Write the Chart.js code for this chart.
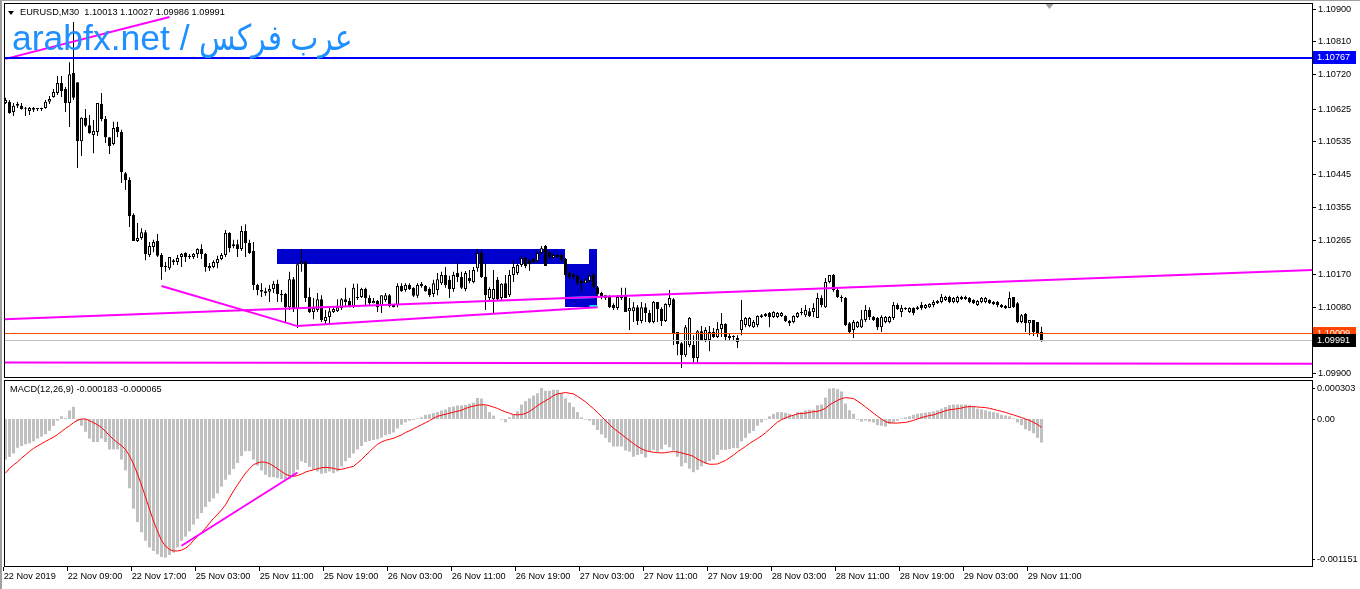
<!DOCTYPE html>
<html>
<head>
<meta charset="utf-8">
<script src="https://cdn.jsdelivr.net/npm/chart.js@4.4.1/dist/chart.umd.min.js"></script>
<style>
  html, body { margin: 0; padding: 0; background: #fff; }
  #wrap { position: relative; width: 1360px; height: 589px; overflow: hidden; background: #fff; }
  #main { position: absolute; left: 0; top: 0; }
  #macd { position: absolute; left: 0; top: 378px; }
  .txt { position: absolute; white-space: pre; font-family: "Liberation Sans", Arial, "DejaVu Sans", sans-serif; color: #000; }
  #hdr { left: 20px; top: 7px; font-size: 9.2px; line-height: 11px; }
  #arrow { position: absolute; left: 8px; top: 11px; width: 0; height: 0; border-left: 3px solid transparent; border-right: 3px solid transparent; border-top: 4px solid #000; }
  #wm { left: 12px; top: 21px; font-size: 35.5px; line-height: 35px; color: #1e90ff; }
  #wm .ar { display: inline-block; transform: scaleX(0.84); transform-origin: left center; }
  #mt { left: 10px; top: 384px; font-size: 9.2px; line-height: 11px; }
  #frameL { position: absolute; left: 0; top: 0; width: 2px; height: 589px; background: #a0a0a0; }
  #frameT { position: absolute; left: 0; top: 0; width: 1360px; height: 1px; background: #a0a0a0; }
</style>
</head>
<body>
<div id="wrap">
  <canvas id="main" width="1360" height="378"></canvas>
  <canvas id="macd" width="1360" height="211"></canvas>
  <div id="frameL"></div>
  <div id="frameT"></div>
  <div id="arrow"></div>
  <div class="txt" id="hdr">EURUSD,M30  1.10013 1.10027 1.09986 1.09991</div>
  <div class="txt" id="wm">arabfx.net / <span class="ar">عرب فركس</span></div>
  <div class="txt" id="mt">MACD(12,26,9) -0.000183 -0.000065</div>
</div>
<script>
// EURUSD M30, 22 Nov 2019 01:00 -> 29 Nov 2019, one value per bar
const open = [
  1.10642,1.10645,1.10617,1.10634,1.10634,1.10628,1.10620,1.10623,1.10626,1.10625,
  1.10628,1.10645,1.10658,1.10669,1.10697,1.10680,1.10642,1.10724,1.10699,1.10537,
  1.10601,1.10581,1.10554,1.10562,1.10639,1.10598,1.10548,1.10529,1.10576,1.10562,
  1.10449,1.10430,1.10334,1.10263,1.10271,1.10287,1.10224,1.10246,1.10263,1.10224,
  1.10191,1.10188,1.10205,1.10205,1.10219,1.10230,1.10222,1.10219,1.10227,1.10241,
  1.10227,1.10188,1.10191,1.10202,1.10213,1.10224,1.10285,1.10249,1.10254,1.10241,
  1.10290,1.10257,1.10235,1.10142,1.10128,1.10120,1.10123,1.10131,1.10145,1.10117,
  1.10117,1.10081,1.10158,1.10076,1.10199,1.10205,1.10109,1.10068,1.10073,1.10103,
  1.10043,1.10054,1.10068,1.10070,1.10079,1.10103,1.10098,1.10084,1.10106,1.10109,
  1.10131,1.10106,1.10092,1.10098,1.10087,1.10101,1.10114,1.10087,1.10087,1.10139,
  1.10128,1.10142,1.10134,1.10112,1.10145,1.10139,1.10131,1.10117,1.10128,1.10147,
  1.10169,1.10156,1.10131,1.10175,1.10164,1.10131,1.10161,1.10150,1.10188,1.10230,
  1.10164,1.10106,1.10103,1.10156,1.10106,1.10147,1.10114,1.10169,1.10175,1.10197,
  1.10216,1.10210,1.10213,1.10208,1.10230,1.10249,1.10232,1.10216,1.10219,1.10224,
  1.10213,1.10175,1.10169,1.10167,1.10153,1.10147,1.10153,1.10169,1.10136,1.10120,
  1.10114,1.10109,1.10087,1.10079,1.10106,1.10112,1.10070,1.10070,1.10081,1.10043,
  1.10081,1.10065,1.10040,1.10095,1.10076,1.10043,1.10087,1.10103,1.10013,1.09982,
  1.09949,1.09977,1.09977,1.09941,1.10015,1.09991,1.09991,1.10013,1.09999,1.10021,
  1.10035,1.10002,1.10002,1.09996,1.10018,1.10032,1.10029,1.10026,1.10032,1.10054,
  1.10057,1.10065,1.10054,1.10054,1.10057,1.10057,1.10043,1.10040,1.10054,1.10065,
  1.10059,1.10070,1.10068,1.10051,1.10106,1.10081,1.10150,1.10169,1.10128,1.10109,
  1.10106,1.10037,1.10018,1.10026,1.10026,1.10046,1.10073,1.10054,1.10051,1.10026,
  1.10040,1.10040,1.10051,1.10087,1.10068,1.10079,1.10068,1.10079,1.10076,1.10087,
  1.10079,1.10081,1.10087,1.10098,1.10095,1.10101,1.10109,1.10095,1.10095,1.10109,
  1.10103,1.10106,1.10101,1.10087,1.10095,1.10095,1.10101,1.10095,1.10095,1.10087,
  1.10084,1.10079,1.10109,1.10092,1.10040,1.10062,1.10037,1.10046,1.10040,1.10013
];
const high = [
  1.10656,1.10650,1.10642,1.10645,1.10642,1.10631,1.10631,1.10631,1.10628,1.10629,
  1.10650,1.10661,1.10680,1.10716,1.10716,1.10686,1.10754,1.10864,1.10699,1.10603,
  1.10625,1.10609,1.10595,1.10642,1.10669,1.10606,1.10548,1.10590,1.10590,1.10568,
  1.10452,1.10438,1.10339,1.10312,1.10298,1.10293,1.10260,1.10266,1.10282,1.10230,
  1.10205,1.10219,1.10213,1.10224,1.10230,1.10232,1.10227,1.10230,1.10243,1.10254,
  1.10230,1.10202,1.10210,1.10222,1.10230,1.10293,1.10287,1.10266,1.10266,1.10304,
  1.10309,1.10266,1.10260,1.10145,1.10147,1.10134,1.10142,1.10153,1.10156,1.10128,
  1.10120,1.10178,1.10164,1.10202,1.10241,1.10210,1.10134,1.10106,1.10120,1.10114,
  1.10073,1.10079,1.10081,1.10103,1.10106,1.10134,1.10106,1.10145,1.10145,1.10134,
  1.10134,1.10114,1.10106,1.10101,1.10114,1.10120,1.10117,1.10090,1.10147,1.10147,
  1.10147,1.10147,1.10136,1.10147,1.10150,1.10142,1.10136,1.10156,1.10175,1.10178,
  1.10191,1.10167,1.10178,1.10202,1.10178,1.10180,1.10183,1.10191,1.10241,1.10238,
  1.10202,1.10136,1.10183,1.10164,1.10147,1.10169,1.10183,1.10210,1.10202,1.10222,
  1.10219,1.10213,1.10216,1.10235,1.10249,1.10252,1.10235,1.10230,1.10227,1.10227,
  1.10216,1.10178,1.10175,1.10169,1.10158,1.10161,1.10175,1.10175,1.10139,1.10123,
  1.10114,1.10114,1.10092,1.10114,1.10134,1.10134,1.10106,1.10095,1.10087,1.10095,
  1.10092,1.10073,1.10098,1.10095,1.10081,1.10092,1.10128,1.10106,1.10013,1.09985,
  1.10032,1.10054,1.10004,1.10018,1.10029,1.10026,1.10029,1.10024,1.10040,1.10065,
  1.10037,1.10007,1.10004,1.10004,1.10101,1.10054,1.10054,1.10046,1.10059,1.10062,
  1.10065,1.10068,1.10070,1.10068,1.10068,1.10059,1.10046,1.10059,1.10068,1.10079,
  1.10087,1.10079,1.10092,1.10120,1.10114,1.10161,1.10169,1.10172,1.10134,1.10114,
  1.10109,1.10040,1.10046,1.10043,1.10073,1.10087,1.10081,1.10057,1.10054,1.10059,
  1.10057,1.10057,1.10095,1.10092,1.10087,1.10081,1.10081,1.10081,1.10084,1.10095,
  1.10090,1.10092,1.10101,1.10101,1.10117,1.10112,1.10112,1.10109,1.10112,1.10112,
  1.10112,1.10109,1.10103,1.10101,1.10109,1.10109,1.10103,1.10098,1.10098,1.10090,
  1.10087,1.10123,1.10109,1.10095,1.10062,1.10065,1.10046,1.10046,1.10040,1.10027
];
const low = [
  1.10639,1.10612,1.10606,1.10628,1.10623,1.10606,1.10609,1.10617,1.10620,1.10620,
  1.10626,1.10639,1.10656,1.10664,1.10658,1.10617,1.10576,1.10650,1.10463,1.10496,
  1.10576,1.10557,1.10504,1.10551,1.10592,1.10532,1.10502,1.10526,1.10548,1.10422,
  1.10403,1.10301,1.10263,1.10260,1.10266,1.10210,1.10219,1.10232,1.10219,1.10156,
  1.10178,1.10183,1.10197,1.10197,1.10191,1.10205,1.10213,1.10213,1.10216,1.10213,
  1.10178,1.10180,1.10188,1.10188,1.10210,1.10219,1.10232,1.10243,1.10219,1.10235,
  1.10219,1.10227,1.10128,1.10114,1.10109,1.10112,1.10095,1.10120,1.10095,1.10095,
  1.10040,1.10073,1.10068,1.10024,1.10178,1.10095,1.10065,1.10048,1.10068,1.10040,
  1.10035,1.10037,1.10065,1.10068,1.10073,1.10081,1.10081,1.10079,1.10101,1.10106,
  1.10087,1.10087,1.10092,1.10068,1.10065,1.10095,1.10081,1.10081,1.10081,1.10123,
  1.10123,1.10128,1.10109,1.10106,1.10134,1.10123,1.10109,1.10109,1.10114,1.10142,
  1.10134,1.10106,1.10123,1.10150,1.10131,1.10125,1.10147,1.10147,1.10178,1.10161,
  1.10073,1.10101,1.10065,1.10101,1.10101,1.10106,1.10109,1.10150,1.10169,1.10191,
  1.10188,1.10180,1.10202,1.10202,1.10227,1.10194,1.10213,1.10213,1.10216,1.10205,
  1.10164,1.10158,1.10156,1.10142,1.10123,1.10147,1.10147,1.10134,1.10112,1.10103,
  1.10101,1.10079,1.10073,1.10073,1.10101,1.10068,1.10018,1.10040,1.10032,1.10037,
  1.10040,1.10037,1.10037,1.10040,1.10029,1.10040,1.10081,1.09977,1.09949,1.09914,
  1.09944,1.09971,1.09925,1.09925,1.09988,1.09985,1.09960,1.09996,1.09996,1.09999,
  1.09991,1.09988,1.09991,1.09969,1.10004,1.10026,1.10026,1.10024,1.10026,1.10051,
  1.10054,1.10026,1.10051,1.10051,1.10054,1.10040,1.10029,1.10037,1.10051,1.10059,
  1.10054,1.10054,1.10054,1.10051,1.10081,1.10079,1.10147,1.10123,1.10106,1.10095,
  1.10029,1.10010,1.09996,1.10024,1.10024,1.10040,1.10046,1.10043,1.10018,1.10013,
  1.10037,1.10037,1.10046,1.10073,1.10054,1.10073,1.10065,1.10059,1.10073,1.10073,
  1.10076,1.10079,1.10081,1.10090,1.10092,1.10098,1.10092,1.10092,1.10092,1.10101,
  1.10101,1.10092,1.10090,1.10084,1.10092,1.10092,1.10090,1.10087,1.10081,1.10079,
  1.10076,1.10079,1.10079,1.10037,1.10037,1.10013,1.10004,1.10002,1.09999,1.09986
];
const close = [
  1.10650,1.10614,1.10634,1.10639,1.10625,1.10626,1.10628,1.10628,1.10625,1.10626,
  1.10645,1.10653,1.10672,1.10697,1.10675,1.10642,1.10721,1.10656,1.10537,1.10601,
  1.10579,1.10559,1.10565,1.10642,1.10598,1.10548,1.10524,1.10573,1.10562,1.10452,
  1.10430,1.10331,1.10263,1.10271,1.10287,1.10227,1.10249,1.10260,1.10222,1.10191,
  1.10194,1.10219,1.10210,1.10216,1.10227,1.10219,1.10219,1.10227,1.10241,1.10227,
  1.10191,1.10194,1.10205,1.10213,1.10224,1.10285,1.10243,1.10254,1.10241,1.10290,
  1.10257,1.10230,1.10142,1.10128,1.10123,1.10125,1.10131,1.10145,1.10117,1.10114,
  1.10081,1.10158,1.10076,1.10199,1.10205,1.10106,1.10068,1.10079,1.10103,1.10046,
  1.10054,1.10070,1.10076,1.10081,1.10103,1.10095,1.10084,1.10134,1.10109,1.10131,
  1.10106,1.10092,1.10098,1.10081,1.10114,1.10114,1.10084,1.10081,1.10139,1.10125,
  1.10142,1.10131,1.10112,1.10142,1.10139,1.10125,1.10114,1.10147,1.10158,1.10169,
  1.10142,1.10131,1.10169,1.10164,1.10134,1.10175,1.10153,1.10183,1.10230,1.10164,
  1.10114,1.10131,1.10131,1.10103,1.10145,1.10106,1.10169,1.10191,1.10197,1.10216,
  1.10194,1.10199,1.10205,1.10230,1.10243,1.10194,1.10219,1.10224,1.10224,1.10210,
  1.10169,1.10164,1.10164,1.10147,1.10147,1.10156,1.10167,1.10136,1.10117,1.10109,
  1.10106,1.10081,1.10079,1.10109,1.10112,1.10068,1.10079,1.10081,1.10043,1.10081,
  1.10065,1.10040,1.10095,1.10076,1.10043,1.10090,1.10106,1.10010,1.09980,1.09949,
  1.10026,1.10051,1.09941,1.10015,1.09991,1.10018,1.10013,1.09999,1.10021,1.10035,
  1.09999,1.09996,1.09999,1.09985,1.10046,1.10051,1.10051,1.10040,1.10057,1.10059,
  1.10062,1.10054,1.10068,1.10065,1.10065,1.10043,1.10037,1.10057,1.10065,1.10068,
  1.10073,1.10057,1.10079,1.10106,1.10087,1.10150,1.10169,1.10128,1.10109,1.10106,
  1.10032,1.10013,1.10040,1.10040,1.10048,1.10073,1.10054,1.10046,1.10026,1.10054,
  1.10054,1.10054,1.10087,1.10076,1.10079,1.10076,1.10079,1.10065,1.10081,1.10079,
  1.10087,1.10090,1.10095,1.10092,1.10109,1.10109,1.10095,1.10106,1.10109,1.10103,
  1.10109,1.10095,1.10092,1.10098,1.10106,1.10106,1.10092,1.10090,1.10087,1.10081,
  1.10079,1.10106,1.10081,1.10040,1.10059,1.10037,1.10046,1.10013,1.10007,1.09991
];

// MACD(12,26,9): main line (histogram) and signal line
const macdMain = [
  -0.000316,-0.000295,-0.000268,-0.000224,-0.000210,-0.000197,-0.000189,-0.000174,-0.000153,-0.000137,
  -0.000118,-0.000092,-0.000053,-0.000013,0.000021,0.000008,0.000066,0.000095,-0.000013,-0.000053,
  -0.000100,-0.000153,-0.000179,-0.000179,-0.000153,-0.000179,-0.000237,-0.000237,-0.000237,-0.000316,
  -0.000400,-0.000539,-0.000697,-0.000802,-0.000881,-0.000947,-0.000999,-0.001026,-0.001052,-0.001073,
  -0.001078,-0.001057,-0.001039,-0.000999,-0.000947,-0.000915,-0.000873,-0.000821,-0.000776,-0.000731,
  -0.000684,-0.000644,-0.000618,-0.000579,-0.000526,-0.000473,-0.000434,-0.000389,-0.000342,-0.000289,
  -0.000250,-0.000250,-0.000316,-0.000363,-0.000400,-0.000434,-0.000452,-0.000452,-0.000460,-0.000468,
  -0.000473,-0.000468,-0.000447,-0.000395,-0.000329,-0.000342,-0.000373,-0.000395,-0.000408,-0.000426,
  -0.000421,-0.000408,-0.000421,-0.000408,-0.000368,-0.000329,-0.000302,-0.000268,-0.000237,-0.000210,
  -0.000179,-0.000171,-0.000163,-0.000158,-0.000145,-0.000126,-0.000118,-0.000105,-0.000074,-0.000045,
  -0.000026,-0.000013,-0.000008,0.000005,0.000013,0.000032,0.000037,0.000045,0.000053,0.000066,
  0.000074,0.000092,0.000097,0.000105,0.000105,0.000110,0.000118,0.000126,0.000163,0.000158,
  0.000105,0.000053,0.000026,0.000000,-0.000005,-0.000026,0.000013,0.000032,0.000060,
  0.000112,0.000139,0.000160,0.000182,0.000200,0.000240,0.000219,0.000219,0.000227,0.000227,
  0.000200,0.000160,0.000128,0.000093,0.000053,0.000013,-0.000005,-0.000013,-0.000048,-0.000085,
  -0.000120,-0.000147,-0.000182,-0.000214,-0.000214,-0.000214,-0.000246,-0.000254,-0.000294,-0.000280,
  -0.000272,-0.000299,-0.000254,-0.000240,-0.000254,-0.000235,-0.000200,-0.000220,-0.000246,-0.000294,
  -0.000368,-0.000342,-0.000387,-0.000414,-0.000395,-0.000368,-0.000347,-0.000328,-0.000315,-0.000280,
  -0.000240,-0.000240,-0.000235,-0.000227,-0.000227,-0.000174,-0.000147,-0.000112,-0.000093,-0.000053,
  -0.000027,-0.000005,0.000021,0.000040,0.000053,0.000053,0.000048,0.000040,0.000032,0.000053,
  0.000053,0.000067,0.000072,0.000072,0.000107,0.000112,0.000166,0.000235,0.000240,0.000232,
  0.000214,0.000120,0.000067,0.000040,-0.000005,-0.000021,-0.000013,-0.000021,-0.000027,-0.000048,
  -0.000053,-0.000059,-0.000040,-0.000027,-0.000013,0.000005,0.000013,0.000021,0.000032,0.000040,
  0.000045,0.000049,0.000053,0.000059,0.000067,0.000080,0.000093,0.000107,0.000112,0.000112,
  0.000112,0.000112,0.000107,0.000093,0.000080,0.000075,0.000067,0.000059,0.000053,0.000048,
  0.000032,0.000027,0.000021,0.000005,-0.000027,-0.000048,-0.000080,-0.000093,-0.000112,-0.000147,
  -0.000183
];
const macdSignal = [
  -0.000421,-0.000384,-0.000358,-0.000334,-0.000305,-0.000279,-0.000252,-0.000229,-0.000210,-0.000192,
  -0.000174,-0.000158,-0.000142,-0.000121,-0.000097,-0.000074,-0.000053,-0.000029,-0.000011,0.000000,
  0.000000,-0.000013,-0.000029,-0.000045,-0.000066,-0.000097,-0.000129,-0.000160,-0.000184,-0.000208,
  -0.000237,-0.000287,-0.000350,-0.000429,-0.000513,-0.000608,-0.000702,-0.000794,-0.000873,-0.000944,
  -0.000989,-0.001015,-0.001026,-0.001026,-0.001020,-0.001005,-0.000981,-0.000944,-0.000913,-0.000881,
  -0.000850,-0.000810,-0.000773,-0.000742,-0.000707,-0.000668,-0.000613,-0.000560,-0.000513,-0.000466,
  -0.000421,-0.000387,-0.000355,-0.000342,-0.000334,-0.000337,-0.000347,-0.000366,-0.000387,-0.000408,
  -0.000429,-0.000442,-0.000447,-0.000439,-0.000429,-0.000413,-0.000403,-0.000395,-0.000387,-0.000379,
  -0.000376,-0.000379,-0.000384,-0.000392,-0.000392,-0.000384,-0.000376,-0.000368,-0.000342,-0.000316,
  -0.000284,-0.000255,-0.000224,-0.000197,-0.000179,-0.000166,-0.000158,-0.000150,-0.000137,-0.000124,
  -0.000105,-0.000092,-0.000076,-0.000060,-0.000045,-0.000029,-0.000013,0.000005,0.000021,0.000029,
  0.000037,0.000045,0.000053,0.000060,0.000068,0.000082,0.000092,0.000100,0.000108,0.000110,
  0.000110,0.000103,0.000092,0.000082,0.000068,0.000055,0.000045,0.000034,0.000032,
  0.000035,0.000043,0.000059,0.000080,0.000104,0.000123,0.000142,0.000160,0.000182,0.000195,
  0.000200,0.000206,0.000200,0.000195,0.000176,0.000155,0.000134,0.000107,0.000080,0.000051,
  0.000019,-0.000013,-0.000043,-0.000072,-0.000096,-0.000120,-0.000144,-0.000168,-0.000192,-0.000214,
  -0.000232,-0.000246,-0.000254,-0.000259,-0.000262,-0.000264,-0.000262,-0.000256,-0.000254,-0.000256,
  -0.000264,-0.000272,-0.000280,-0.000291,-0.000312,-0.000328,-0.000342,-0.000352,-0.000352,-0.000350,
  -0.000336,-0.000323,-0.000302,-0.000280,-0.000256,-0.000235,-0.000214,-0.000190,-0.000171,-0.000152,
  -0.000131,-0.000107,-0.000080,-0.000051,-0.000024,-0.000005,0.000008,0.000021,0.000029,0.000040,
  0.000043,0.000045,0.000051,0.000056,0.000059,0.000069,0.000083,0.000109,0.000128,0.000144,
  0.000158,0.000166,0.000163,0.000158,0.000139,0.000117,0.000093,0.000069,0.000045,0.000021,
  0.000000,-0.000021,-0.000029,-0.000032,-0.000032,-0.000029,-0.000027,-0.000019,-0.000011,0.000000,
  0.000011,0.000019,0.000027,0.000032,0.000043,0.000053,0.000064,0.000072,0.000075,0.000080,
  0.000085,0.000093,0.000096,0.000096,0.000093,0.000091,0.000088,0.000083,0.000075,0.000067,
  0.000059,0.000051,0.000040,0.000032,0.000021,0.000011,0.000000,-0.000011,-0.000027,-0.000043,
  -0.000065
];

// axis labels as printed on the chart
const priceTicks = [1.10900, 1.10810, 1.10720, 1.10625, 1.10535, 1.10445, 1.10355, 1.10265, 1.10170, 1.10080, 1.09900];
const macdTicks = [0.000303, 0, -0.001151];
const timeLabels = ["22 Nov 2019", "22 Nov 09:00", "22 Nov 17:00", "25 Nov 03:00", "25 Nov 11:00", "25 Nov 19:00",
  "26 Nov 03:00", "26 Nov 11:00", "26 Nov 19:00", "27 Nov 03:00", "27 Nov 11:00", "27 Nov 19:00",
  "28 Nov 03:00", "28 Nov 11:00", "28 Nov 19:00", "29 Nov 03:00", "29 Nov 11:00"];

// drawn objects: [bar, price] anchors
const levels = [1.10767, 1.10009, 1.09991];
const trendTop = [[0, 1.10763], [41, 1.10878]];
const trendUpper = [[0, 1.10048], [259, 1.10155]];
const trendBottom = [[0, 1.09929], [259, 1.09926]];
const trendWedge = [[39, 1.10139], [73, 1.10029], [148, 1.10081]];
const cyanA = [[140, 1.10106], [148, 1.10109]];
const cyanB = [[146, 1.10084], [148, 1.10084]];
const macdTrend = [[44, -0.000986], [73, -0.000416]];
const zones = [[68, 140, 1.10241, 1.10200], [140, 148, 1.10200, 1.10081], [146, 148, 1.10241, 1.10200]];

const family = '"Liberation Sans", Arial, sans-serif';
const xMin = -0.375, xMax = 326.625;
const idx = close.map((_, i) => i);

const toPts = a => a.map(([x, y]) => ({ x, y }));
function ray(a) {
  const k = (a[1][1] - a[0][1]) / (a[1][0] - a[0][0]);
  return [{ x: xMin, y: a[0][1] + k * (xMin - a[0][0]) }, { x: xMax, y: a[0][1] + k * (xMax - a[0][0]) }];
}
function lineSet(data, color, width) {
  return { type: 'line', data, borderColor: color, borderWidth: width, pointRadius: 0, tension: 0, fill: false, order: -1 };
}

const levelStyle = [{ c: '#0000ff', w: 2 }, { c: '#ff4500', w: 1 }, { c: '#c0c0c0', w: 1 }];
const boxColor = ['#0000ff', '#ff4500', '#000000'];

const mainDecor = {
  id: 'mainDecor',
  beforeDatasetsDraw(chart) {
    const { ctx, scales: { x, y } } = chart;
    ctx.save();
    ctx.fillStyle = '#0000cd';
    zones.forEach(([i0, i1, p0, p1]) => {
      const x0 = Math.floor(x.getPixelForValue(i0)), x1 = Math.floor(x.getPixelForValue(i1));
      const y0 = Math.round(y.getPixelForValue(p0)), y1 = Math.round(y.getPixelForValue(p1));
      ctx.fillRect(x0, y0, x1 - x0, y1 - y0);
    });
    ctx.restore();
  },
  afterDatasetsDraw(chart) {
    const { ctx, chartArea: a, scales: { y } } = chart;
    ctx.save();
    levels.forEach((p, k) => {
      const s = levelStyle[k];
      const yy = Math.round(y.getPixelForValue(p) - s.w / 2 + 0.5);
      ctx.fillStyle = s.c;
      ctx.fillRect(a.left, yy, a.right - a.left, s.w);
    });
    ctx.restore();
  },
  afterDraw(chart) {
    const { ctx, chartArea: a, scales: { x, y } } = chart;
    ctx.save();
    ctx.strokeStyle = '#000';
    ctx.lineWidth = 1;
    ctx.strokeRect(a.left + 0.5, a.top + 0.5, a.right - a.left, a.bottom - a.top - 1);
    // shift marker
    const sx = x.getPixelForValue(261);
    ctx.fillStyle = '#a0a0a0';
    ctx.beginPath();
    ctx.moveTo(sx - 4, a.top + 1); ctx.lineTo(sx + 4, a.top + 1); ctx.lineTo(sx, a.top + 6);
    ctx.closePath(); ctx.fill();
    // price labels on the axis
    ctx.font = '9.2px ' + family;
    ctx.textBaseline = 'middle';
    levels.forEach((p, k) => {
      const yy = Math.round(y.getPixelForValue(p));
      ctx.fillStyle = boxColor[k];
      ctx.fillRect(a.right + 1, yy - 6, 43, 13);
      ctx.fillStyle = '#fff';
      ctx.fillText(p.toFixed(5), a.right + 5, yy + 0.5);
    });
    ctx.restore();
  }
};

const macdDecor = {
  id: 'macdDecor',
  afterDraw(chart) {
    const { ctx, chartArea: a, scales: { y } } = chart;
    ctx.save();
    ctx.strokeStyle = '#000';
    ctx.lineWidth = 1;
    ctx.strokeRect(a.left + 0.5, a.top + 0.5, a.right - a.left, a.bottom - a.top - 1);
    ctx.font = '9.2px ' + family;
    ctx.textBaseline = 'middle';
    ctx.fillStyle = '#000';
    macdTicks.forEach(v => {
      const yy = Math.min(Math.max(y.getPixelForValue(v), a.top + 8), a.bottom - 8);
      ctx.fillRect(a.right, Math.round(yy), 3, 1);
      ctx.fillText(v === 0 ? '0.00' : v.toFixed(6), a.right + 5, yy + 0.5);
    });
    ctx.restore();
  }
};

const barCommon = { grouped: false, inflateAmount: 0, borderSkipped: false, order: 1 };

new Chart(document.getElementById('main'), {
  type: 'bar',
  data: {
    datasets: [
      Object.assign({}, barCommon, {
        data: idx.map(i => ({ x: i, y: [low[i], high[i]] })),
        backgroundColor: '#000', borderWidth: 0, barThickness: 1, minBarLength: 1, order: 2
      }),
      Object.assign({}, barCommon, {
        data: idx.map(i => ({ x: i, y: [Math.min(open[i], close[i]), Math.max(open[i], close[i])] })),
        backgroundColor: idx.map(i => close[i] >= open[i] ? '#ffffff' : '#000000'),
        borderColor: '#000', borderWidth: 1, barThickness: 3, minBarLength: 1, order: 1
      }),
      lineSet(toPts(trendTop), '#ff00ff', 2),
      lineSet(ray(trendUpper), '#ff00ff', 2),
      lineSet(ray(trendBottom), '#ff00ff', 2),
      lineSet(toPts(trendWedge), '#ff00ff', 2),
      lineSet(toPts(cyanA), '#00ffff', 2),
      lineSet(toPts(cyanB), '#00ffff', 2)
    ]
  },
  options: {
    responsive: false, animation: false, devicePixelRatio: 1, events: [],
    layout: { padding: { left: 4, top: 3, right: 0, bottom: 0 } },
    plugins: { legend: { display: false }, tooltip: { enabled: false } },
    scales: {
      x: { type: 'linear', min: xMin, max: xMax, offset: false, display: false },
      y: {
        position: 'right', min: 1.098864, max: 1.109165,
        afterFit(s) { s.width = 48; s.paddingTop = 0; s.paddingBottom = 0; },
        afterBuildTicks(s) { s.ticks = priceTicks.map(v => ({ value: v })); },
        ticks: { callback: v => Number(v).toFixed(5), color: '#000', font: { family, size: 9.2 }, padding: 2, autoSkip: false },
        grid: { drawOnChartArea: false, drawTicks: true, tickLength: 4, color: '#000' },
        border: { display: false }
      }
    }
  },
  plugins: [mainDecor]
});

new Chart(document.getElementById('macd'), {
  type: 'bar',
  data: {
    datasets: [
      Object.assign({}, barCommon, {
        data: idx.map(i => ({ x: i, y: macdMain[i] })),
        backgroundColor: '#c0c0c0', borderWidth: 0, barThickness: 3, order: 2
      }),
      { type: 'line', data: idx.map(i => ({ x: i, y: macdSignal[i] })), borderColor: '#ff0000', borderWidth: 1,
        pointRadius: 0, tension: 0, fill: false, order: 1 },
      lineSet(toPts(macdTrend), '#ff00ff', 2)
    ]
  },
  options: {
    responsive: false, animation: false, devicePixelRatio: 1, events: [],
    layout: { padding: { left: 4, top: 2, right: 48, bottom: 0 } },
    plugins: { legend: { display: false }, tooltip: { enabled: false } },
    scales: {
      x: {
        type: 'linear', min: xMin, max: xMax, offset: false, position: 'bottom',
        afterFit(s) { s.height = 22; s.paddingLeft = 0; s.paddingRight = 0; },
        afterBuildTicks(s) { s.ticks = timeLabels.map((t, k) => ({ value: 16 * k - 0.45 })); },
        ticks: { callback: (v, k) => timeLabels[k], align: 'start', maxRotation: 0, minRotation: 0, autoSkip: false,
          color: '#000', font: { family, size: 9.2 }, padding: 0 },
        grid: { drawOnChartArea: false, drawTicks: true, tickLength: 4, color: '#000', offset: false },
        border: { display: false }
      },
      y: { display: false, min: -0.001151, max: 0.000303 }
    }
  },
  plugins: [macdDecor]
});
</script>
</body>
</html>
